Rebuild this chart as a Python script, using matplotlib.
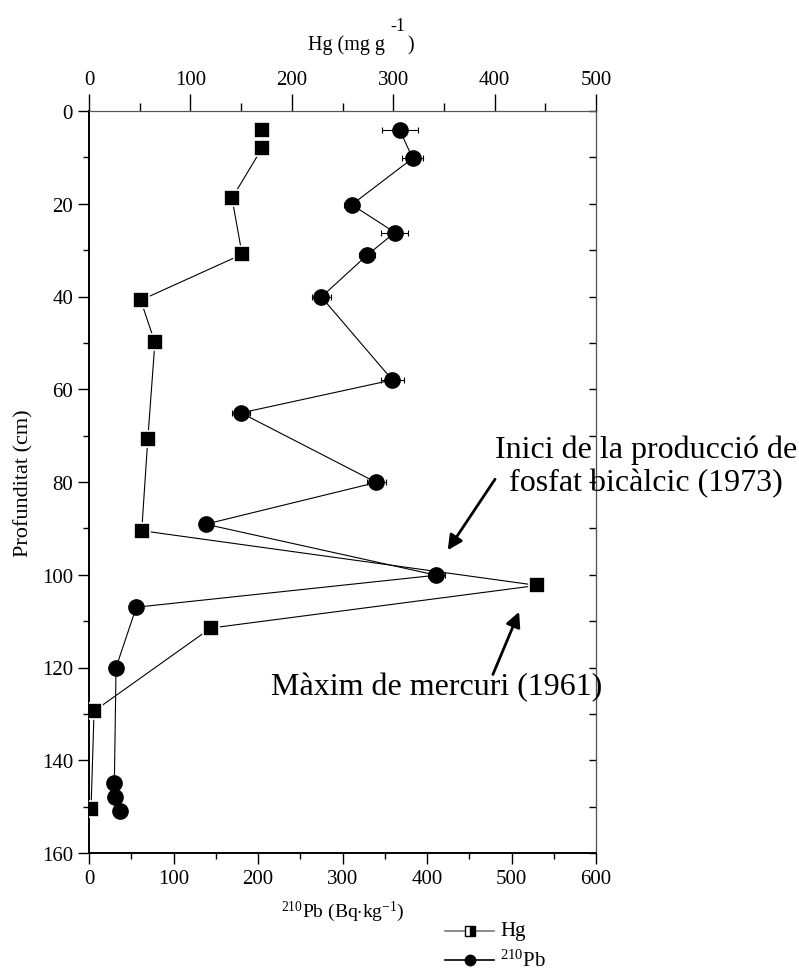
import numpy as np
import matplotlib
matplotlib.use("Agg")
import matplotlib.pyplot as plt
from matplotlib.lines import Line2D

plt.rcParams['font.family'] = ['Liberation Serif', 'DejaVu Serif']
plt.rcParams['mathtext.fontset'] = 'custom'
plt.rcParams['mathtext.rm'] = 'Liberation Serif'
plt.rcParams['mathtext.it'] = 'Liberation Serif:italic'

# Hg profile (top axis, mg g-1)
hg_depth = [4.0, 7.9, 18.8, 30.9, 40.8, 49.9, 70.7, 90.5, 102.3, 111.5, 129.4, 150.5]
hg_value = [171, 171, 141, 151, 51, 65, 58, 52, 442, 120, 5, 2]

# 210Pb profile (bottom axis, Bq/kg)
pb_depth = [4.2, 10.2, 20.2, 26.2, 31.1, 40.1, 58.0, 65.1, 80.1, 89.1, 100.1, 107.0, 120.0, 145.0, 148.0, 151.0]
pb_value = [368, 383, 311, 362, 329, 275, 359, 180, 340, 138, 411, 56, 32, 30, 31, 37]
pb_err = [21, 12, 9, 16, 10, 11, 14, 11, 11, 4, 10, 0, 0, 0, 0, 0]

W, H = 799, 970
fig = plt.figure(figsize=(W / 100, H / 100), dpi=100)
ax = fig.add_axes([89 / W, 1 - 854 / H, (596 - 89) / W, (854 - 112) / H])
ax2 = ax.twiny()

# Pb series
ax.errorbar(pb_value, pb_depth, xerr=pb_err, fmt='none', ecolor='k', elinewidth=0.8,
            capsize=2.5, capthick=0.8, zorder=3)
ax.plot(pb_value, pb_depth, '-', color='k', lw=0.8, zorder=2)
ax.plot(pb_value, pb_depth, 'o', color='k', ms=11, mec='k', zorder=4)

# Hg series
ax2.plot(hg_value, hg_depth, '-', color='k', lw=0.8, zorder=2)
ax2.plot(hg_value, hg_depth, 's', color='k', ms=11.5, mec='white', mew=1.2, zorder=4)

ax.set_xlim(0, 600)
ax2.set_xlim(0, 500)
ax.set_ylim(160, 0)

ax.set_xticks(np.arange(0, 601, 100))
ax.set_xticks(np.arange(50, 600, 100), minor=True)
ax.set_yticks(np.arange(0, 161, 20))
ax.set_yticks(np.arange(10, 160, 20), minor=True)
ax2.set_xticks(np.arange(0, 501, 100))
ax2.set_xticks(np.arange(50, 500, 100), minor=True)

ax.tick_params(axis='both', which='major', direction='out', length=8, width=1,
               labelsize=15, colors='k')
ax.tick_params(axis='both', which='minor', direction='out', length=4.5, width=1)
ax.tick_params(axis='y', right=False)
ax2.tick_params(axis='x', which='major', direction='out', length=12, width=1, labelsize=15, pad=4)
ax2.tick_params(axis='x', which='minor', direction='out', length=6, width=1)

# right spine ticks every 10 cm, inward, no labels
axr = ax.secondary_yaxis('right')
axr.set_yticks(np.arange(0, 161, 10))
axr.tick_params(direction='in', length=5, width=1, labelright=False)
axr.spines['right'].set_color('#555555')

for a in (ax, ax2):
    a.spines['top'].set_color('#555555')
    a.spines['right'].set_color('#555555')
    a.spines['left'].set_linewidth(1.2)
    a.spines['bottom'].set_linewidth(1.2)

ax.set_xlabel(r'$^{\mathrm{210}}$Pb (Bq$\cdot$kg$^{\mathrm{-1}}$)', fontsize=14, labelpad=8)
ax.set_ylabel('Profunditat (cm)', fontsize=16)
ax.yaxis.set_label_coords((33 - 89) / 507, 0.5)

# top axis title, Origin style with a detached superscript
fig.text(308 / W, 1 - 50 / H, 'Hg (mg g', fontsize=14.5, ha='left', va='baseline')
fig.text(390 / W, 1 - 31 / H, '-1', fontsize=13, ha='left', va='baseline')
fig.text(407 / W, 1 - 50 / H, ')', fontsize=14.5, ha='left', va='baseline')

# annotations
fig.text(646 / W, 1 - 467 / H, 'Inici de la producció de\nfosfat bicàlcic (1973)',
         fontsize=23, ha='center', va='center', linespacing=1.15)
fig.text(437 / W, 1 - 688 / H, 'Màxim de mercuri (1961)', fontsize=23, ha='center', va='center')

arrow = dict(arrowstyle='-|>', lw=2, color='k', mutation_scale=22, shrinkA=0, shrinkB=0)
ax.annotate('', xy=(424.5, 94.7), xytext=(480.5, 79.4), arrowprops=arrow, annotation_clip=False)
ax.annotate('', xy=(509, 108), xytext=(478, 121.5), arrowprops=arrow, annotation_clip=False)

# legend below the chart, drawn by hand
legend_rows = [('Hg', 932), (r'$^{\mathrm{210}}$Pb', 961)]
hg_handle = dict(color='#777777', lw=1.2, marker='s', ms=7, fillstyle='right',
                 markerfacecolor='k', markerfacecoloralt='white', markeredgecolor='k')
pb_handle = dict(color='k', lw=1.2, marker='o', ms=7.5, markerfacecolor='k')
for (label, ypix), style in zip(legend_rows, (hg_handle, pb_handle)):
    yf = 1 - ypix / H
    fig.add_artist(Line2D([445 / W, 494 / W], [yf, yf], transform=fig.transFigure, lw=style['lw'],
                          color=style['color']))
    fig.add_artist(Line2D([470 / W], [yf], transform=fig.transFigure, linestyle='none',
                          **{k: v for k, v in style.items() if k not in ('lw', 'color')},
                          color=style['color'] if label == 'Hg' else 'k'))
    fig.text(500 / W, yf, label, fontsize=15, ha='left', va='center')

fig.savefig('out.png', dpi=100)
